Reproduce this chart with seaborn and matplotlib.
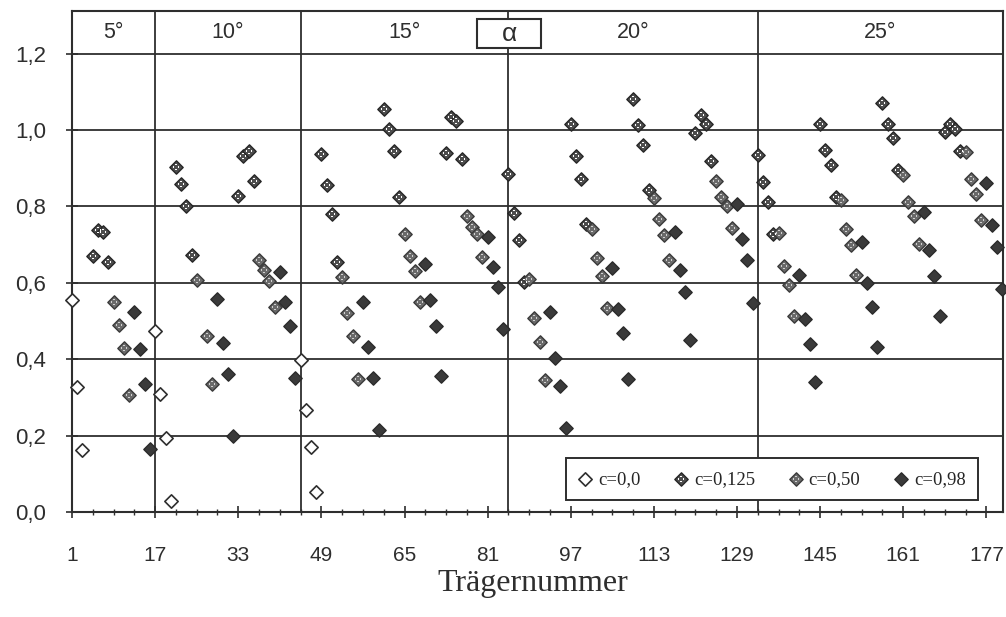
import matplotlib
matplotlib.use("Agg")
import matplotlib.pyplot as plt
import seaborn as sns
from matplotlib.patches import Rectangle
from matplotlib.path import Path
from matplotlib.legend_handler import HandlerTuple

# Trägernummer and values per c
beam_c0 = [1, 2, 3, 17, 18, 19, 20, 45, 46, 47, 48]
val_c0 = [0.556, 0.327, 0.162, 0.475, 0.308, 0.193, 0.029, 0.398, 0.266, 0.170, 0.053]

beam_c125 = [5, 6, 7, 8, 21, 22, 23, 24, 33, 34, 35, 36,
             49, 50, 51, 52, 61, 62, 63, 64, 73, 74, 75, 76,
             85, 86, 87, 88, 97, 98, 99, 100, 109, 110, 111, 112, 121, 122, 123, 124,
             133, 134, 135, 136, 145, 146, 147, 148, 157, 158, 159, 160, 169, 170, 171, 172]
val_c125 = [0.671, 0.739, 0.734, 0.654, 0.904, 0.858, 0.800, 0.673, 0.828, 0.933, 0.945, 0.866,
            0.938, 0.855, 0.780, 0.655, 1.056, 1.004, 0.945, 0.825, 0.940, 1.034, 1.024, 0.925,
            0.886, 0.784, 0.711, 0.603, 1.015, 0.931, 0.871, 0.755, 1.081, 1.014, 0.961, 0.844,
            0.992, 1.040, 1.016, 0.919,
            0.934, 0.865, 0.812, 0.727, 1.017, 0.949, 0.908, 0.825, 1.071, 1.017, 0.980, 0.895,
            0.995, 1.017, 1.004, 0.945]

beam_c50 = [9, 10, 11, 12, 25, 27, 28, 37, 38, 39, 40,
            53, 54, 55, 56, 65, 66, 67, 68, 77, 78, 79, 80,
            89, 90, 91, 92, 101, 102, 103, 104, 113, 114, 115, 116, 125, 126, 127, 128,
            137, 138, 139, 140, 149, 150, 151, 152, 161, 162, 163, 164, 173, 174, 175, 176]
val_c50 = [0.549, 0.490, 0.429, 0.306, 0.608, 0.462, 0.335, 0.660, 0.634, 0.605, 0.538,
           0.616, 0.521, 0.460, 0.348, 0.728, 0.670, 0.632, 0.551, 0.775, 0.745, 0.729, 0.668,
           0.611, 0.509, 0.444, 0.346, 0.742, 0.666, 0.619, 0.535, 0.822, 0.768, 0.726, 0.659,
           0.868, 0.825, 0.801, 0.744,
           0.730, 0.645, 0.594, 0.513, 0.817, 0.740, 0.699, 0.621, 0.882, 0.812, 0.775, 0.702,
           0.943, 0.871, 0.832, 0.764]

beam_c98 = [13, 14, 15, 16, 29, 30, 31, 32, 41, 42, 43, 44,
            57, 58, 59, 60, 69, 70, 71, 72, 81, 82, 83, 84,
            93, 94, 95, 96, 105, 106, 107, 108, 117, 118, 119, 120, 129, 130, 131, 132,
            141, 142, 143, 144, 153, 154, 155, 156, 165, 166, 167, 168, 177, 178, 179, 180]
val_c98 = [0.525, 0.426, 0.336, 0.165, 0.558, 0.443, 0.362, 0.199, 0.628, 0.550, 0.486, 0.351,
           0.551, 0.431, 0.351, 0.216, 0.649, 0.555, 0.487, 0.357, 0.721, 0.641, 0.590, 0.479,
           0.525, 0.404, 0.329, 0.220, 0.639, 0.531, 0.468, 0.348, 0.733, 0.633, 0.575, 0.451,
           0.807, 0.714, 0.659, 0.546,
           0.620, 0.505, 0.441, 0.340, 0.708, 0.599, 0.536, 0.432, 0.786, 0.686, 0.618, 0.514,
           0.862, 0.751, 0.695, 0.583]

series_labels = ["c=0,0", "c=0,125", "c=0,50", "c=0,98"]
group_labels = ["5°", "10°", "15°", "20°", "25°"]
group_edges = [1, 17, 45, 85, 133, 180.2]
x_major = list(range(1, 178, 16))
x_minor = list(range(1, 181, 4))
y_ticks = [0.0, 0.2, 0.4, 0.6, 0.8, 1.0, 1.2]
y_ticklabels = ["0,0", "0,2", "0,4", "0,6", "0,8", "1,0", "1,2"]


def dot_marker(off=0.24, r=0.08):
    # four small squares laid out like a diamond -> the white dots of the scan
    verts, codes = [], []
    for cx, cy in [(0, off), (off, 0), (0, -off), (-off, 0)]:
        verts += [(cx - r, cy - r), (cx + r, cy - r), (cx + r, cy + r),
                  (cx - r, cy + r), (cx - r, cy - r)]
        codes += [Path.MOVETO, Path.LINETO, Path.LINETO, Path.LINETO, Path.CLOSEPOLY]
    return Path(verts, codes)


sns.set_theme(style="white")
plt.rcParams["font.family"] = ["Liberation Sans", "DejaVu Sans"]

ink = "#2e2e2e"
y_top = 1.312

fig = plt.figure(figsize=(10.06, 6.17), dpi=100)
ax = fig.add_axes([0.0716, 0.1702, 0.9254, 0.812])

ms = 46
dots = dot_marker()
handles = []

sns.scatterplot(x=beam_c0, y=val_c0, marker="D", s=ms, color="white",
                edgecolor=ink, linewidth=1.2, ax=ax, zorder=4, clip_on=False)
handles.append((ax.collections[-1],))

sns.scatterplot(x=beam_c125, y=val_c125, marker="D", s=ms, color="#4d4d4d",
                edgecolor="#262626", linewidth=1.0, ax=ax, zorder=4, clip_on=False)
h_a = ax.collections[-1]
sns.scatterplot(x=beam_c125, y=val_c125, marker=dots, s=24, color="white",
                linewidth=0, ax=ax, zorder=5, clip_on=False)
handles.append((h_a, ax.collections[-1]))

sns.scatterplot(x=beam_c50, y=val_c50, marker="D", s=ms, color="#6a6a6a",
                edgecolor="#3a3a3a", linewidth=1.0, ax=ax, zorder=4, clip_on=False)
h_a = ax.collections[-1]
sns.scatterplot(x=beam_c50, y=val_c50, marker=dots, s=24, color="#d0d0d0",
                linewidth=0, ax=ax, zorder=5, clip_on=False)
handles.append((h_a, ax.collections[-1]))

sns.scatterplot(x=beam_c98, y=val_c98, marker="D", s=ms, color="#3a3a3a",
                edgecolor="#2a2a2a", linewidth=1.0, ax=ax, zorder=4, clip_on=False)
handles.append((ax.collections[-1],))

ax.set_xlim(group_edges[0], group_edges[-1])
ax.set_ylim(0, y_top)

# grid: horizontal lines and the angle group separators
for yv in y_ticks[1:]:
    ax.axhline(yv, color=ink, lw=1.3, zorder=1)
ax.vlines(group_edges[1:-1], 0, y_top, color=ink, lw=1.3, zorder=1)

# header band with the angle labels
for i, lab in enumerate(group_labels):
    xc = (group_edges[i] + group_edges[i + 1]) / 2
    ax.text(xc, (1.2 + y_top) / 2, lab, ha="center", va="center",
            fontsize=15.5, color=ink)

ax.add_patch(Rectangle((79.0, 1.214), 12.3, 0.078, facecolor="white",
                       edgecolor=ink, lw=1.5, zorder=6))
ax.text(85.15, 1.252, "α", ha="center", va="center", fontsize=19,
        color=ink, zorder=7)

ax.set_xticks(x_major)
ax.set_xticks(x_minor, minor=True)
ax.set_xticklabels([str(v) for v in x_major])
ax.set_yticks(y_ticks)
ax.set_yticklabels(y_ticklabels)
ax.tick_params(axis="x", which="major", direction="inout", length=9, width=1.2,
               color=ink, labelsize=15, labelcolor=ink, pad=20, bottom=True)
ax.tick_params(axis="x", which="minor", direction="inout", length=5, width=1.0,
               color=ink, bottom=True)
ax.tick_params(axis="y", direction="inout", length=9, width=1.2, color=ink,
               labelsize=16, labelcolor=ink, pad=14, left=True)

for sp in ax.spines.values():
    sp.set_visible(True)
    sp.set_color(ink)
    sp.set_linewidth(1.5)

ax.set_xlabel("")
ax.set_ylabel("")
fig.text(533 / 1006, 1 - 584 / 617, "Trägernummer", ha="center", va="center",
         fontsize=23, family="Liberation Serif", color=ink)

leg = ax.legend(handles=handles, labels=series_labels,
                handler_map={tuple: HandlerTuple(ndivide=1, pad=0)},
                loc="lower right", bbox_to_anchor=(0.973, 0.024), borderaxespad=0,
                ncol=4, frameon=True, fancybox=False, framealpha=1,
                prop={"family": "Liberation Serif", "size": 13.5},
                handlelength=0.8, handletextpad=0.3, columnspacing=1.75,
                borderpad=0.65)
leg.get_frame().set_edgecolor(ink)
leg.get_frame().set_linewidth(1.4)
leg.set_zorder(8)

fig.savefig("out.png", dpi=100)
